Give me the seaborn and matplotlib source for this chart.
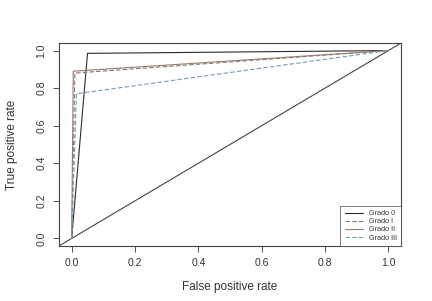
import numpy as np
import pandas as pd
import matplotlib
matplotlib.use('Agg')
import matplotlib.pyplot as plt
import seaborn as sns

# ---------- dados (curvas ROC por grau) ----------
grados = ['Grado 0', 'Grado I', 'Grado II', 'Grado III']
fpr_g0 = [0.0, 0.05, 1.0]
tpr_g0 = [0.0, 0.985, 1.0]
fpr_g1 = [0.0, 0.01, 1.0]
tpr_g1 = [0.0, 0.88, 1.0]
fpr_g2 = [0.0, 0.005, 1.0]
tpr_g2 = [0.0, 0.89, 1.0]
fpr_g3 = [0.0, 0.015, 1.0]
tpr_g3 = [0.0, 0.77, 1.0]
ticks = [0.0, 0.2, 0.4, 0.6, 0.8, 1.0]
tick_labels = ['0.0', '0.2', '0.4', '0.6', '0.8', '1.0']

df = pd.concat([
    pd.DataFrame({'fpr': fpr_g0, 'tpr': tpr_g0, 'grado': grados[0]}),
    pd.DataFrame({'fpr': fpr_g1, 'tpr': tpr_g1, 'grado': grados[1]}),
    pd.DataFrame({'fpr': fpr_g2, 'tpr': tpr_g2, 'grado': grados[2]}),
    pd.DataFrame({'fpr': fpr_g3, 'tpr': tpr_g3, 'grado': grados[3]}),
], ignore_index=True)

sns.set_style('white')
plt.rcParams['font.family'] = ['Liberation Sans', 'DejaVu Sans']

cores = {'Grado 0': '#2b2b2b', 'Grado I': '#7a7a7a',
         'Grado II': '#9c7a70', 'Grado III': '#6f9fae'}
estilos = {'Grado 0': '', 'Grado I': (4, 2), 'Grado II': '', 'Grado III': (4, 2)}

fig = plt.figure(figsize=(4.32, 3.01), dpi=100)
ax = fig.add_axes([0.1366, 0.183, 0.7917, 0.674])

sns.lineplot(data=df, x='fpr', y='tpr', hue='grado', style='grado',
             palette=cores, dashes=estilos, hue_order=grados, style_order=grados,
             sort=False, estimator=None, linewidth=0.8, ax=ax)
ax.axline((0, 0), (1, 1), color='#444444', linewidth=0.8, zorder=1)

ax.set_xlim(-0.04, 1.04)
ax.set_ylim(-0.04, 1.04)
ax.set_xticks(ticks)
ax.set_xticklabels(tick_labels)
ax.set_yticks(ticks)
ax.set_yticklabels(tick_labels, rotation=90, va='center')
ax.tick_params(axis='both', direction='out', length=4, width=0.6, color='#333333',
               labelsize=7.5, labelcolor='#333333', pad=5,
               bottom=True, left=True)
for s in ax.spines.values():
    s.set_color('#444444')
    s.set_linewidth(0.8)

ax.set_xlabel('False positive rate', fontsize=8.5, color='#333333', labelpad=9)
ax.set_ylabel('True positive rate', fontsize=8.5, color='#333333')
ax.yaxis.set_label_coords(-0.12, 0.5)

leg = ax.legend(loc='lower right', borderaxespad=0, fontsize=5.2, frameon=True,
                fancybox=False, handlelength=2.5, labelspacing=0.15,
                borderpad=0.6, title=None)
leg.get_frame().set_edgecolor('#444444')
leg.get_frame().set_linewidth(0.6)
for t in leg.get_texts():
    t.set_color('#333333')

fig.savefig('out.png', dpi=100)
